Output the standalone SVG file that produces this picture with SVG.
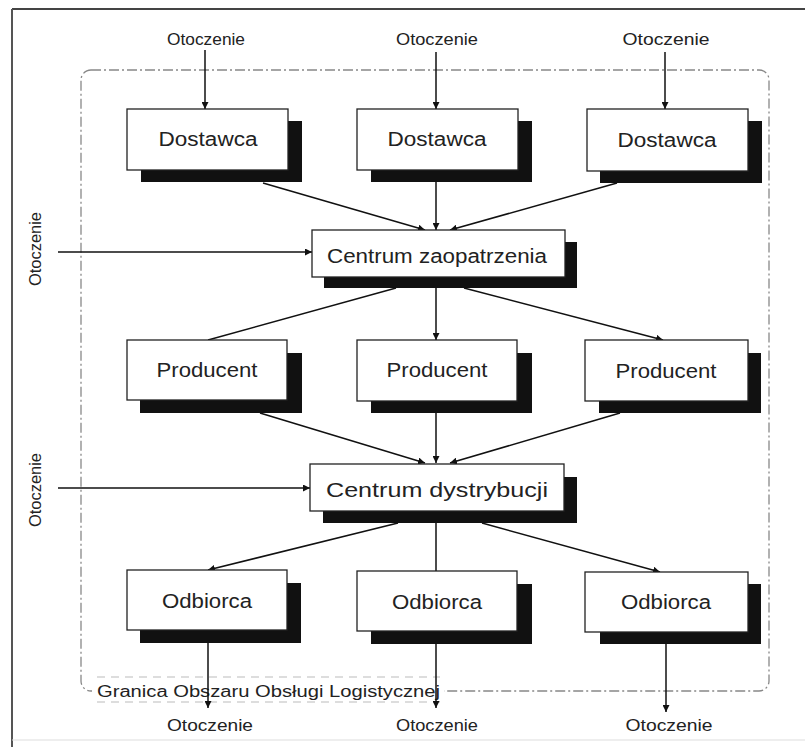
<svg xmlns="http://www.w3.org/2000/svg" width="805" height="747" viewBox="0 0 805 747">
<defs>
<marker id="ah" viewBox="0 0 10 10" refX="10" refY="5" markerWidth="7" markerHeight="7" markerUnits="userSpaceOnUse" orient="auto"><path d="M0,0 L10,5 L0,10 Z" fill="#111"/></marker>
<style>
.box{fill:#fff;stroke:#222;stroke-width:1.3}
.sh{fill:#111}
.lbl{font-family:"Liberation Sans",Arial,sans-serif;font-size:20px;fill:#222;text-anchor:middle}
.env{font-family:"Liberation Sans",Arial,sans-serif;font-size:17px;fill:#222;text-anchor:middle}
.cn{stroke:#111;stroke-width:1.5;fill:none}
.bd{fill:none;stroke:#888;stroke-width:1.3;stroke-dasharray:10 3 2 3}
</style>
</defs>
<rect width="805" height="747" fill="#fff"/>
<g id="frame">
<line x1="12" y1="9" x2="805" y2="9" stroke="#444" stroke-width="2"/>
<line x1="12" y1="9" x2="12" y2="747" stroke="#555" stroke-width="2"/>
<line x1="12" y1="740" x2="805" y2="740" stroke="#ddd" stroke-width="1"/>
</g>
<g id="boundary">
<rect class="bd" x="81" y="70" width="688" height="621" rx="10"/>
<rect x="92" y="680" width="352" height="20" fill="#fff"/>
<line x1="97" y1="677" x2="440" y2="677" stroke="#bbb" stroke-width="1" stroke-dasharray="8 6"/>
<line x1="97" y1="702" x2="440" y2="702" stroke="#bbb" stroke-width="1" stroke-dasharray="8 6"/>
<text x="97" y="697" font-family="'Liberation Sans',Arial,sans-serif" font-size="16" fill="#222" textLength="343" lengthAdjust="spacingAndGlyphs">Granica Obszaru Obsługi Logistycznej</text>
</g>
<g id="connectors">
<line class="cn" x1="205" y1="50" x2="205" y2="109" marker-end="url(#ah)"/>
<line class="cn" x1="436" y1="52" x2="436" y2="109" marker-end="url(#ah)"/>
<line class="cn" x1="665" y1="52" x2="665" y2="109" marker-end="url(#ah)" stroke-width="2"/>
<line class="cn" x1="58" y1="252" x2="312" y2="252" marker-end="url(#ah)"/>
<line class="cn" x1="58" y1="488" x2="310" y2="488" marker-end="url(#ah)"/>
<line class="cn" x1="263" y1="183" x2="425" y2="230" marker-end="url(#ah)"/>
<line class="cn" x1="436" y1="182" x2="436" y2="230" marker-end="url(#ah)"/>
<line class="cn" x1="617" y1="183" x2="450" y2="230" marker-end="url(#ah)"/>
<line class="cn" x1="396" y1="288" x2="208" y2="340"/>
<line class="cn" x1="436" y1="288" x2="436" y2="340" marker-end="url(#ah)"/>
<line class="cn" x1="464" y1="288" x2="663" y2="340" marker-end="url(#ah)"/>
<line class="cn" x1="260" y1="413" x2="425" y2="463" marker-end="url(#ah)"/>
<line class="cn" x1="436" y1="413" x2="436" y2="463" marker-end="url(#ah)"/>
<line class="cn" x1="620" y1="413" x2="450" y2="463" marker-end="url(#ah)"/>
<line class="cn" x1="398" y1="523" x2="208" y2="570" marker-end="url(#ah)"/>
<line class="cn" x1="436" y1="523" x2="436" y2="571"/>
<line class="cn" x1="482" y1="523" x2="660" y2="572" marker-end="url(#ah)"/>
<line class="cn" x1="208" y1="643" x2="208" y2="708" marker-end="url(#ah)"/>
<line class="cn" x1="436" y1="643" x2="436" y2="708" marker-end="url(#ah)"/>
<line class="cn" x1="666" y1="644" x2="666" y2="712" marker-end="url(#ah)" stroke-width="2"/>
</g>
<g id="env-top1"><text class="env" x="206" y="45" textLength="78" lengthAdjust="spacingAndGlyphs">Otoczenie</text></g>
<g id="env-top2"><text class="env" x="437" y="45" textLength="82" lengthAdjust="spacingAndGlyphs">Otoczenie</text></g>
<g id="env-top3"><text class="env" x="666" y="45" textLength="87" lengthAdjust="spacingAndGlyphs">Otoczenie</text></g>
<g id="env-left1"><text class="env" transform="translate(41,249) rotate(-90)" textLength="74" lengthAdjust="spacingAndGlyphs">Otoczenie</text></g>
<g id="env-left2"><text class="env" transform="translate(41,490) rotate(-90)" textLength="74" lengthAdjust="spacingAndGlyphs">Otoczenie</text></g>
<g id="env-bot1"><text class="env" x="210" y="731" textLength="86" lengthAdjust="spacingAndGlyphs">Otoczenie</text></g>
<g id="env-bot2"><text class="env" x="437" y="731" textLength="82" lengthAdjust="spacingAndGlyphs">Otoczenie</text></g>
<g id="env-bot3"><text class="env" x="669" y="731" textLength="87" lengthAdjust="spacingAndGlyphs">Otoczenie</text></g>
<g id="dostawca1"><rect class="sh" x="141" y="121" width="161" height="61"/><rect class="box" x="127" y="109" width="161" height="61"/><text class="lbl" x="208" y="146" textLength="99" lengthAdjust="spacingAndGlyphs">Dostawca</text></g>
<g id="dostawca2"><rect class="sh" x="371" y="121" width="161" height="61"/><rect class="box" x="357" y="109" width="161" height="61"/><text class="lbl" x="437" y="146" textLength="99" lengthAdjust="spacingAndGlyphs">Dostawca</text></g>
<g id="dostawca3"><rect class="sh" x="600" y="121" width="162" height="62"/><rect class="box" x="587" y="109" width="161" height="62"/><text class="lbl" x="667" y="147" textLength="99" lengthAdjust="spacingAndGlyphs">Dostawca</text></g>
<g id="centrum-zaopatrzenia"><rect class="sh" x="324" y="242" width="253" height="46"/><rect class="box" x="312" y="230" width="253" height="47"/><text class="lbl" x="437" y="263" textLength="220" lengthAdjust="spacingAndGlyphs">Centrum zaopatrzenia</text></g>
<g id="producent1"><rect class="sh" x="140" y="353" width="162" height="60"/><rect class="box" x="127" y="340" width="160" height="60"/><text class="lbl" x="207" y="377" textLength="101" lengthAdjust="spacingAndGlyphs">Producent</text></g>
<g id="producent2"><rect class="sh" x="371" y="353" width="161" height="60"/><rect class="box" x="357" y="340" width="160" height="61"/><text class="lbl" x="437" y="377" textLength="101" lengthAdjust="spacingAndGlyphs">Producent</text></g>
<g id="producent3"><rect class="sh" x="599" y="353" width="162" height="60"/><rect class="box" x="585" y="340" width="163" height="61"/><text class="lbl" x="666" y="378" textLength="101" lengthAdjust="spacingAndGlyphs">Producent</text></g>
<g id="centrum-dystrybucji"><rect class="sh" x="323" y="477" width="254" height="46"/><rect class="box" x="310" y="464" width="254" height="47"/><text class="lbl" x="437" y="497" textLength="222" lengthAdjust="spacingAndGlyphs">Centrum dystrybucji</text></g>
<g id="odbiorca1"><rect class="sh" x="140" y="583" width="161" height="60"/><rect class="box" x="127" y="570" width="160" height="60"/><text class="lbl" x="207" y="608" textLength="90" lengthAdjust="spacingAndGlyphs">Odbiorca</text></g>
<g id="odbiorca2"><rect class="sh" x="371" y="584" width="161" height="60"/><rect class="box" x="357" y="571" width="160" height="60"/><text class="lbl" x="437" y="609" textLength="90" lengthAdjust="spacingAndGlyphs">Odbiorca</text></g>
<g id="odbiorca3"><rect class="sh" x="600" y="584" width="161" height="60"/><rect class="box" x="585" y="572" width="163" height="60"/><text class="lbl" x="666" y="609" textLength="90" lengthAdjust="spacingAndGlyphs">Odbiorca</text></g>
</svg>
